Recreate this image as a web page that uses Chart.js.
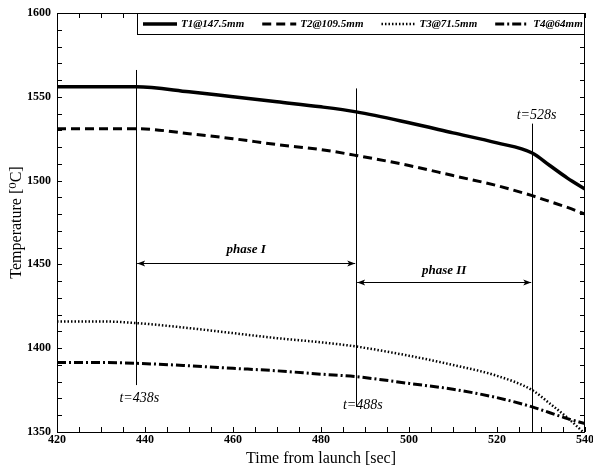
<!DOCTYPE html>
<html>
<head>
<meta charset="utf-8">
<script src="https://cdn.jsdelivr.net/npm/chart.js@4.4.0/dist/chart.umd.min.js"></script>
<style>
  body { margin: 0; background: #fff; }
  #wrap { width: 593px; height: 472px; }
</style>
</head>
<body>
<div id="wrap"><canvas id="myChart"></canvas></div>
<script>
// time stamps [sec] and temperatures [C]
const times = [420, 430, 438, 450, 460, 470, 480, 488, 500, 510, 520, 528, 532, 536, 540];
const t1 = [1556, 1556, 1556, 1553, 1550, 1547, 1544, 1541, 1534.5, 1528.5, 1522.5, 1516.5, 1509, 1501.5, 1495];
const t2 = [1531, 1531, 1531, 1528, 1525, 1521.5, 1518.5, 1515, 1509, 1503, 1497, 1491, 1487.5, 1484, 1480];
const t3 = [1416, 1416, 1415, 1412, 1409, 1406, 1403.5, 1401, 1395.5, 1390, 1383.5, 1375, 1367, 1358.5, 1349];
const t4 = [1391.5, 1391.5, 1391, 1389.5, 1388, 1386.5, 1384.5, 1383, 1379, 1375.5, 1370.5, 1365, 1361.5, 1358, 1355];
const seriesNames = ['T1@147.5mm', 'T2@109.5mm', 'T3@71.5mm', 'T4@64mm'];

// events marked on the chart
const eventTimes = [438, 488, 528];
const eventLabels = ['t=438s', 't=488s', 't=528s'];
const phaseNames = ['phase I', 'phase II'];

const xTickStep = 20, xMinorStep = 5;
const yTickStep = 50, yMinorStep = 10;

const serif = '"Liberation Serif", "DejaVu Serif", serif';

function pts(ys) {
    return times.map((t, i) => ({ x: t, y: ys[i] }));
}

const styles = [
    { borderWidth: 3.5, borderDash: [] },
    { borderWidth: 3, borderDash: [9, 5] },
    { borderWidth: 2.5, borderDash: [1.5, 2] },
    { borderWidth: 3, borderDash: [9, 3, 2, 3] }
];

// frame, inward ticks on all four sides, event marks and legend
const framePlugin = {
    id: 'frame',
    afterDatasetsDraw(chart) {
        const { ctx, chartArea: a, scales: { x, y } } = chart;
        ctx.save();
        ctx.strokeStyle = '#000';
        ctx.lineWidth = 1;
        ctx.setLineDash([]);
        ctx.strokeRect(a.left + 0.5, a.top + 0.5, a.right - a.left - 1, a.bottom - a.top);

        ctx.beginPath();
        for (let v = x.min; v <= x.max; v += xMinorStep) {
            const px = Math.round(x.getPixelForValue(v)) + 0.5;
            ctx.moveTo(px, a.bottom); ctx.lineTo(px, a.bottom - 5);
            ctx.moveTo(px, a.top); ctx.lineTo(px, a.top + 5);
        }
        for (let v = y.min; v <= y.max; v += yMinorStep) {
            const py = Math.round(y.getPixelForValue(v)) + 0.5;
            ctx.moveTo(a.left, py); ctx.lineTo(a.left + 5, py);
            ctx.moveTo(a.right, py); ctx.lineTo(a.right - 5, py);
        }
        ctx.stroke();

        // event lines
        const lineTop = [1566, 1555, 1534];
        const lineBottom = [1378, 1365, 1350];
        ctx.beginPath();
        eventTimes.forEach((t, i) => {
            const px = Math.round(x.getPixelForValue(t)) + 0.5;
            ctx.moveTo(px, y.getPixelForValue(lineTop[i]));
            ctx.lineTo(px, y.getPixelForValue(lineBottom[i]));
        });
        ctx.stroke();

        ctx.fillStyle = '#000';
        ctx.font = 'italic 14px ' + serif;
        ctx.textAlign = 'center';
        ctx.textBaseline = 'middle';
        const labelPos = [[438.7, 1370], [489.5, 1366], [529, 1539]];
        eventLabels.forEach((s, i) => {
            ctx.fillText(s, x.getPixelForValue(labelPos[i][0]), y.getPixelForValue(labelPos[i][1]));
        });

        // phase arrows
        const arrowY = [1451, 1439.5];
        const phaseLabelY = [1459, 1446.5];
        ctx.font = 'bold italic 13px ' + serif;
        for (let i = 0; i < 2; i++) {
            const x0 = x.getPixelForValue(eventTimes[i]) + 1;
            const x1 = x.getPixelForValue(eventTimes[i + 1]) - 1;
            const py = Math.round(y.getPixelForValue(arrowY[i])) + 0.5;
            ctx.beginPath();
            ctx.moveTo(x0, py); ctx.lineTo(x1, py);
            ctx.stroke();
            ctx.beginPath();
            ctx.moveTo(x0, py); ctx.lineTo(x0 + 8, py - 3); ctx.lineTo(x0 + 6, py); ctx.lineTo(x0 + 8, py + 3); ctx.closePath();
            ctx.moveTo(x1, py); ctx.lineTo(x1 - 8, py - 3); ctx.lineTo(x1 - 6, py); ctx.lineTo(x1 - 8, py + 3); ctx.closePath();
            ctx.fill();
            ctx.fillText(phaseNames[i], (x0 + x1) / 2, y.getPixelForValue(phaseLabelY[i]));
        }

        // legend box
        const lx0 = 137, ly0 = a.top, ly1 = a.top + 21;
        ctx.fillStyle = '#fff';
        ctx.fillRect(lx0, ly0, a.right - lx0, ly1 - ly0);
        ctx.strokeRect(lx0 + 0.5, ly0 + 0.5, a.right - lx0 - 1, ly1 - ly0);
        ctx.font = 'bold italic 11px ' + serif;
        ctx.textAlign = 'left';
        ctx.fillStyle = '#000';
        let cx = lx0 + 6;
        const cy = ly0 + 11;
        chart.data.datasets.forEach((ds) => {
            ctx.save();
            ctx.lineWidth = ds.borderWidth;
            ctx.setLineDash(ds.borderDash);
            ctx.beginPath();
            ctx.moveTo(cx, cy); ctx.lineTo(cx + 34, cy);
            ctx.stroke();
            ctx.restore();
            cx += 38;
            ctx.fillText(ds.label, cx, cy);
            cx += ctx.measureText(ds.label).width + 18;
        });
        ctx.restore();
    }
};

const ctx = document.getElementById('myChart').getContext('2d');
new Chart(ctx, {
    type: 'line',
    data: {
        datasets: [t1, t2, t3, t4].map((d, i) => ({
            label: seriesNames[i],
            data: pts(d),
            borderColor: '#000',
            borderWidth: styles[i].borderWidth,
            borderDash: styles[i].borderDash,
            pointRadius: 0,
            cubicInterpolationMode: 'monotone',
            fill: false
        }))
    },
    options: {
        responsive: true,
        maintainAspectRatio: false,
        animation: false,
        layout: { padding: { top: 13, right: 8, left: 0, bottom: 0 } },
        plugins: {
            legend: { display: false },
            tooltip: { enabled: false }
        },
        scales: {
            x: {
                type: 'linear',
                min: 420, max: 540,
                ticks: { stepSize: xTickStep, color: '#000', padding: 1, maxRotation: 0,
                         callback: (v) => String(v),
                         font: { family: serif, size: 12, weight: 'bold' } },
                grid: { display: false, drawTicks: false },
                border: { display: false },
                title: { display: true, text: 'Time from launch [sec]', color: '#000',
                         font: { family: serif, size: 16 }, padding: { top: 0, bottom: 4 } },
                afterFit(s) { s.height = 40; s.paddingLeft = 0; s.paddingRight = 0; }
            },
            y: {
                min: 1350, max: 1600,
                ticks: { stepSize: yTickStep, color: '#000', padding: 6,
                         callback: (v) => String(v),
                         font: { family: serif, size: 12, weight: 'bold' } },
                grid: { display: false, drawTicks: false },
                border: { display: false },
                title: { display: true, text: 'Temperature [\u2070C]', color: '#000',
                         font: { family: serif, size: 16 }, padding: { top: 7, bottom: 0 } },
                afterFit(s) { s.width = 57; s.paddingTop = 0; s.paddingBottom = 0; }
            }
        }
    },
    plugins: [framePlugin]
});
</script>
</body>
</html>
